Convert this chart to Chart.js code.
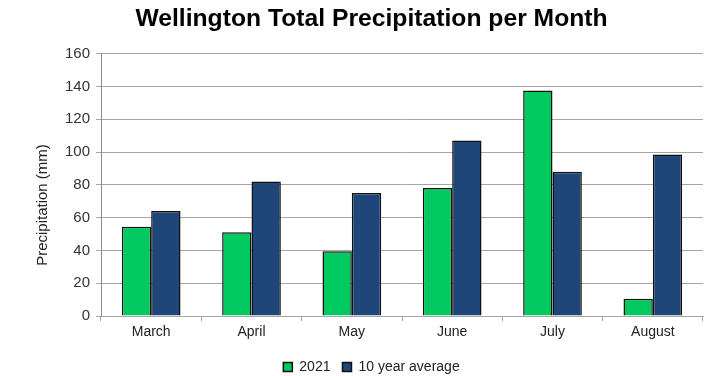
<!DOCTYPE html>
<html>
<head>
<meta charset="utf-8">
<script src="https://cdn.jsdelivr.net/npm/chart.js@4.4.1/dist/chart.umd.min.js"></script>
<style>
  html, body { margin: 0; padding: 0; background: #fff; }
  #wrap { width: 704px; height: 376px; }
</style>
</head>
<body>
<div id="wrap"><canvas id="chart"></canvas></div>
<script>
// Data
const months = ["March", "April", "May", "June", "July", "August"];
const rain2021 = [54.5, 51, 39.5, 78, 137.5, 10.5];
const tenYearAvg = [64, 82, 75, 107, 88, 98.5];
const seriesNames = ["2021", "10 year average"];
const yMin = 0, yMax = 160, yStep = 20;

const chartTitle = "Wellington Total Precipitation per Month";
const yAxisTitle = "Precipitation (mm)";

// y axis title sits lower than the axis centre in the original, so draw it by hand
const yTitlePlugin = {
    id: "yTitle",
    afterDraw(chart) {
        const ctx = chart.ctx;
        ctx.save();
        ctx.translate(43, 205);
        ctx.rotate(-Math.PI / 2);
        ctx.font = "15px 'Liberation Sans', Arial, sans-serif";
        ctx.fillStyle = "#222";
        ctx.textAlign = "center";
        ctx.textBaseline = "middle";
        ctx.fillText(yAxisTitle, 0, 0);
        ctx.restore();
    }
};

new Chart(document.getElementById("chart"), {
    type: "bar",
    data: {
        labels: months,
        datasets: [
            {
                label: seriesNames[0],
                data: rain2021,
                backgroundColor: "#00c95f",
                borderColor: "#111",
                borderWidth: 1.5
            },
            {
                label: seriesNames[1],
                data: tenYearAvg,
                backgroundColor: "#1f4679",
                borderColor: "#111",
                borderWidth: 1.5
            }
        ]
    },
    options: {
        responsive: true,
        maintainAspectRatio: false,
        animation: false,
        // negative bottom padding pulls the legend row down towards the edge
        layout: { padding: { left: 40, right: 1, top: 0, bottom: -8 } },
        datasets: { bar: { categoryPercentage: 0.585, barPercentage: 1.0 } },
        plugins: {
            title: {
                display: true,
                text: chartTitle,
                color: "#000",
                font: { family: "'Liberation Sans', Arial, sans-serif", size: 24.7, weight: "bold" },
                padding: { top: 4, bottom: 20 }
            },
            legend: {
                position: "bottom",
                labels: {
                    color: "#222",
                    boxWidth: 9,
                    boxHeight: 9,
                    padding: 12,
                    font: { family: "'Liberation Sans', Arial, sans-serif", size: 14 }
                }
            },
            tooltip: { enabled: false }
        },
        scales: {
            x: {
                afterFit(scale) { scale.height = 32; },
                grid: { drawOnChartArea: false, drawTicks: true, tickLength: 5, color: "#a6a6a6", offset: true },
                border: { color: "#a6a6a6" },
                ticks: { color: "#222", padding: 3, font: { family: "'Liberation Sans', Arial, sans-serif", size: 14 } }
            },
            y: {
                min: yMin,
                max: yMax,
                afterFit(scale) { scale.width = 61; },
                grid: { color: "#a6a6a6", tickLength: 5 },
                border: { color: "#8c8c8c" },
                ticks: { stepSize: yStep, color: "#333", padding: 6, font: { family: "'Liberation Sans', Arial, sans-serif", size: 15 } }
            }
        }
    },
    plugins: [yTitlePlugin]
});
</script>
</body>
</html>
